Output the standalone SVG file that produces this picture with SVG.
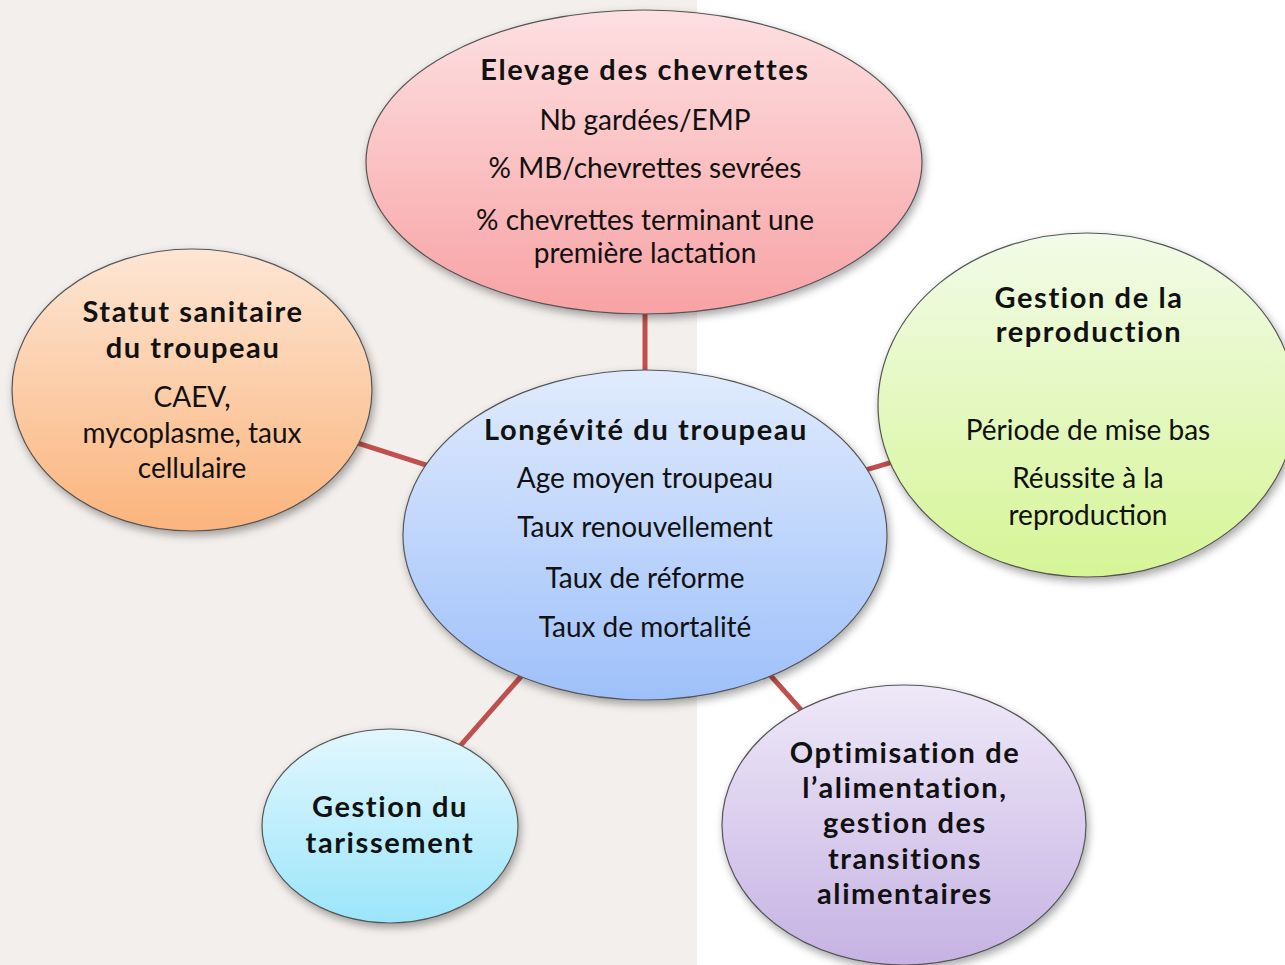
<svg xmlns="http://www.w3.org/2000/svg" width="1285" height="965" viewBox="0 0 1285 965">
<style>
.t{font-family:Lato,"Open Sans","DejaVu Sans",sans-serif;font-size:28px;fill:#111;text-anchor:middle}
.b{font-weight:bold;font-size:29px;letter-spacing:1.6px}
.e{stroke:#555;stroke-width:1.2;filter:url(#sh)}
.c{stroke:#c0504d;stroke-width:5;fill:none}
</style>
<defs>
<filter id="sh" x="-10%" y="-10%" width="125%" height="130%">
<feDropShadow dx="2" dy="4" stdDeviation="4" flood-color="#000" flood-opacity="0.35"/>
</filter>
<linearGradient id="gr" x1="0" y1="0" x2="0" y2="1"><stop offset="0" stop-color="#fde0e2"/><stop offset="1" stop-color="#f8a2a4"/></linearGradient>
<linearGradient id="go" x1="0" y1="0" x2="0" y2="1"><stop offset="0" stop-color="#fde6d4"/><stop offset="1" stop-color="#fbb47c"/></linearGradient>
<linearGradient id="gg" x1="0" y1="0" x2="0" y2="1"><stop offset="0" stop-color="#f2fbe8"/><stop offset="1" stop-color="#d6f596"/></linearGradient>
<linearGradient id="gb" x1="0" y1="0" x2="0" y2="1"><stop offset="0" stop-color="#e0ebfd"/><stop offset="1" stop-color="#9ec0fa"/></linearGradient>
<linearGradient id="gc" x1="0" y1="0" x2="0" y2="1"><stop offset="0" stop-color="#e2f7fe"/><stop offset="1" stop-color="#9be5fa"/></linearGradient>
<linearGradient id="gp" x1="0" y1="0" x2="0" y2="1"><stop offset="0" stop-color="#eee9f8"/><stop offset="1" stop-color="#c6b2e3"/></linearGradient>
</defs>
<rect x="0" y="0" width="1285" height="965" fill="#ffffff"/>
<rect x="0" y="0" width="697" height="965" fill="#f3efec"/>
<g id="connectors">
<line class="c" x1="645" y1="162" x2="645" y2="535"/>
<line class="c" x1="192" y1="390" x2="645" y2="535"/>
<line class="c" x1="645" y1="535" x2="1086" y2="405"/>
<line class="c" x1="645" y1="535" x2="390" y2="826"/>
<line class="c" x1="645" y1="535" x2="904" y2="825"/>
</g>
<g id="elevage">
<ellipse class="e" cx="644" cy="162" rx="278" ry="152" fill="url(#gr)"/>
<text class="t b" x="645" y="80">Elevage des chevrettes</text>
<text class="t" x="645" y="130">Nb gardées/EMP</text>
<text class="t" x="645" y="178">% MB/chevrettes sevrées</text>
<text class="t" x="645" y="230">% chevrettes terminant une</text>
<text class="t" x="645" y="263">première lactation</text>
</g>
<g id="statut">
<ellipse class="e" cx="192" cy="390" rx="180" ry="141" fill="url(#go)"/>
<text class="t b" x="193" y="322">Statut sanitaire</text>
<text class="t b" x="193" y="358">du troupeau</text>
<text class="t" x="192" y="407">CAEV,</text>
<text class="t" x="192" y="443">mycoplasme, taux</text>
<text class="t" x="192" y="478">cellulaire</text>
</g>
<g id="reproduction">
<ellipse class="e" cx="1087" cy="405" rx="209" ry="172" fill="url(#gg)"/>
<text class="t b" x="1089" y="308">Gestion de la</text>
<text class="t b" x="1089" y="342">reproduction</text>
<text class="t" x="1088" y="440">Période de mise bas</text>
<text class="t" x="1088" y="488">Réussite à la</text>
<text class="t" x="1088" y="525">reproduction</text>
</g>
<g id="longevite">
<ellipse class="e" cx="645" cy="535" rx="242" ry="165" fill="url(#gb)"/>
<text class="t b" x="646" y="440">Longévité du troupeau</text>
<text class="t" x="645" y="488">Age moyen troupeau</text>
<text class="t" x="645" y="537">Taux renouvellement</text>
<text class="t" x="645" y="588">Taux de réforme</text>
<text class="t" x="645" y="637">Taux de mortalité</text>
</g>
<g id="tarissement">
<ellipse class="e" cx="390" cy="826" rx="128" ry="97" fill="url(#gc)"/>
<text class="t b" x="390" y="817">Gestion du</text>
<text class="t b" x="390" y="853">tarissement</text>
</g>
<g id="alimentation">
<ellipse class="e" cx="904" cy="825" rx="182" ry="140" fill="url(#gp)"/>
<text class="t b" x="905" y="763">Optimisation de</text>
<text class="t b" x="905" y="798">l’alimentation,</text>
<text class="t b" x="905" y="833">gestion des</text>
<text class="t b" x="905" y="869">transitions</text>
<text class="t b" x="905" y="904">alimentaires</text>
</g>
</svg>
